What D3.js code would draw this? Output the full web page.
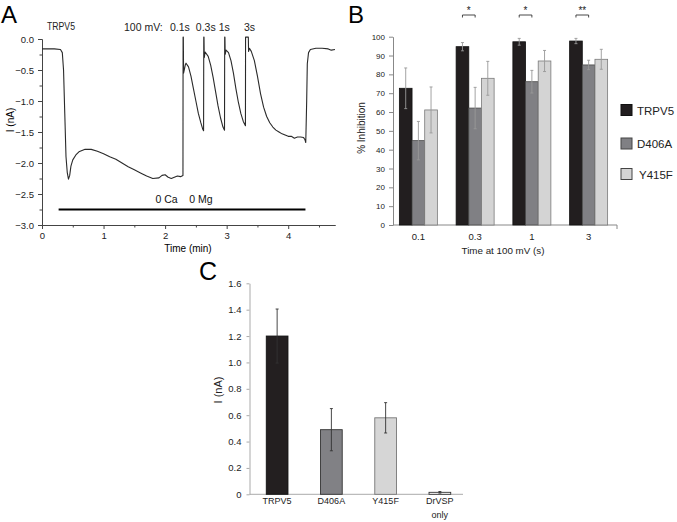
<!DOCTYPE html>
<html><head><meta charset="utf-8">
<script src="https://cdn.jsdelivr.net/npm/d3@7"></script>
<style>
body{margin:0;background:#fff;}
svg{display:block;font-family:"Liberation Sans",Arial,sans-serif;}
.axA path,.axA line{stroke:#444;}
.axB path,.axB line{stroke:#888;}
.axC path,.axC line{stroke:#aaa;}
.tick text{fill:#222;}
</style></head><body>
<svg id="fig" width="677" height="522"></svg>
<script>
// ---------- Panel A: current trace ----------
const traceTime = [0,0.1,0.2,0.3,0.33,0.35,0.37,0.39,0.41,0.43,0.45,0.47,0.5,0.55,0.6,0.7,0.8,0.9,1.0,1.1,1.2,1.3,1.4,1.5,1.6,1.7,1.8,1.9,1.95,2.0,2.05,2.1,2.15,2.2,2.25,2.29,
  2.292,2.296,2.30,2.33,2.34,2.38,2.42,2.46,2.5,2.54,2.58,2.61,2.625,
  2.628,2.632,2.636,2.65,2.7,2.74,2.78,2.82,2.86,2.9,2.94,2.965,
  2.968,2.972,2.976,2.99,3.03,3.07,3.11,3.15,3.19,3.23,3.27,3.305,
  3.307,3.352,3.356,3.37,3.4,3.45,3.5,3.55,3.6,3.65,3.7,3.75,3.8,3.85,3.9,3.95,4.0,4.05,4.1,4.15,4.2,4.25,4.27,4.285,
  4.3,4.31,4.33,4.36,4.45,4.55,4.65,4.7,4.76];
const traceCurrent = [-0.16,-0.16,-0.16,-0.17,-0.22,-0.5,-1.2,-1.9,-2.15,-2.26,-2.2,-2.05,-1.95,-1.87,-1.82,-1.78,-1.78,-1.81,-1.85,-1.9,-1.94,-2.0,-2.06,-2.11,-2.16,-2.21,-2.25,-2.24,-2.2,-2.19,-2.23,-2.25,-2.23,-2.21,-2.22,-2.2,
  0.03,0.03,-0.55,-0.41,-0.39,-0.45,-0.6,-0.8,-1.0,-1.2,-1.35,-1.45,-1.48,
  0.03,0.03,-0.3,-0.21,-0.28,-0.42,-0.62,-0.85,-1.08,-1.27,-1.42,-1.47,
  0.03,0.03,-0.25,-0.18,-0.22,-0.35,-0.55,-0.8,-1.02,-1.2,-1.33,-1.40,
  0.03,0.03,-0.2,-0.15,-0.2,-0.35,-0.6,-0.88,-1.1,-1.25,-1.35,-1.42,-1.47,-1.5,-1.53,-1.55,-1.57,-1.57,-1.6,-1.58,-1.58,-1.59,-1.62,-1.67,
  -1.0,-0.4,-0.22,-0.17,-0.15,-0.15,-0.16,-0.18,-0.17];
const pulseLabels = ["0.1s","0.3s","1s","3s"];
const pulseLabelX = [2.24,2.66,2.96,3.37];   // minutes, label centres
const solutionLabel = "0 Ca    0 Mg";
const solutionStart = 0.27, solutionEnd = 4.28, solutionLevel = -2.75;
const yTicksA = [0,-0.5,-1,-1.5,-2,-2.5,-3];
const xTicksA = [0,1,2,3,4];

// ---------- Panel B: % inhibition ----------
const groupsB = ["0.1","0.3","1","3"];
const seriesB = ["TRPV5","D406A","Y415F"];
const inhTRPV5 = [72.6,94.7,97.3,97.7];
const errTRPV5 = [10.8,2.2,1.8,1.4];
const inhD406A = [44.8,62.1,76.1,85.0];
const errD406A = [10.2,11,6,2.5];
const inhY415F = [61.1,77.9,87.1,88.0];
const errY415F = [12.2,9,5.6,5.3];
const sigB = ["","*","*","**"];
const yTicksB = [0,10,20,30,40,50,60,70,80,90,100];

// ---------- Panel C: current amplitude ----------
const catsC = ["TRPV5","D406A","Y415F","DrVSP only"];
const valsC = [1.2,0.49,0.58,0.015];
const errC = [0.205,0.16,0.115,0.006];
const yTicksC = [0,0.2,0.4,0.6,0.8,1.0,1.2,1.4,1.6];

const fillB = {TRPV5:"#221e1f", D406A:"#808084", Y415F:"#d4d4d4"};
const strokeB = {TRPV5:"#111", D406A:"#4a4a4a", Y415F:"#7a7a7a"};
const fillC = ["#231f20","#818185","#d6d6d6","#ffffff"];
const strokeC = ["#111","#333","#777","#333"];

const svg = d3.select("#fig");

// ===== Panel A =====
const xA = d3.scaleLinear().domain([0,4.76]).range([42,335]);
const yA = d3.scaleLinear().domain([-3,0]).range([225,39]);
const gA = svg.append("g");
gA.append("text").attr("x",1).attr("y",23).attr("font-size",24).text("A");
const axAy = gA.append("g").attr("class","axA").attr("transform","translate(42,0)")
  .call(d3.axisLeft(yA).tickValues(yTicksA).tickFormat(d3.format(".1f")).tickSize(4).tickSizeOuter(0));
axAy.selectAll("text").attr("font-size",9.5).attr("dx",-1);
gA.append("g").attr("class","axA").attr("transform","translate(42,0)")
  .call(d3.axisLeft(yA).tickValues(d3.range(-2.75,0,0.5)).tickFormat("").tickSize(2.5).tickSizeOuter(0));
const axAx = gA.append("g").attr("class","axA").attr("transform","translate(0,225)")
  .call(d3.axisBottom(xA).tickValues(xTicksA).tickFormat(d3.format("d")).tickSize(4).tickSizeOuter(0));
axAx.selectAll("text").attr("font-size",9.5);
gA.append("g").attr("class","axA").attr("transform","translate(0,225)")
  .call(d3.axisBottom(xA).tickValues([0.5,1.5,2.5,3.5,4.5]).tickFormat("").tickSize(2.5).tickSizeOuter(0));
gA.append("text").attr("transform","translate(14,120) rotate(-90)").attr("text-anchor","middle").attr("font-size",10).text("I (nA)");
gA.append("text").attr("x",188).attr("y",252).attr("text-anchor","middle").attr("font-size",10).text("Time (min)");
gA.append("text").attr("x",47).attr("y",30).attr("font-size",10.5).attr("textLength",28).attr("lengthAdjust","spacingAndGlyphs").attr("fill","#222").text("TRPV5");
gA.append("text").attr("x",124).attr("y",31).attr("font-size",10.5).attr("fill","#222").text("100 mV:");
gA.selectAll(".pl").data(pulseLabels).join("text").attr("class","pl")
  .attr("x",(d,i)=>xA(pulseLabelX[i])).attr("y",31).attr("text-anchor","middle").attr("font-size",10.5).attr("fill","#222").text(d=>d);
const lineA = d3.line().x((d,i)=>xA(traceTime[i])).y((d,i)=>yA(traceCurrent[i]));
gA.append("path").attr("d",lineA(traceTime)).attr("fill","none").attr("stroke","#2a2a2a").attr("stroke-width",1.1).attr("stroke-linejoin","round");
gA.append("line").attr("x1",xA(solutionStart)).attr("x2",xA(solutionEnd)).attr("y1",yA(solutionLevel)).attr("y2",yA(solutionLevel))
  .attr("stroke","#000").attr("stroke-width",2);
gA.append("text").attr("x",184).attr("y",203).attr("text-anchor","middle").attr("font-size",10.5).attr("fill","#111")
  .attr("xml:space","preserve").style("white-space","pre").text(solutionLabel);

// ===== Panel B =====
const xB = d3.scaleBand().domain(groupsB).range([390,617]);
const xBin = d3.scaleBand().domain(seriesB).range([0,38]);
const yB = d3.scaleLinear().domain([0,100]).range([225,36.7]);
const gB = svg.append("g");
gB.append("text").attr("x",348).attr("y",23).attr("font-size",24).text("B");
const axBy = gB.append("g").attr("class","axB").attr("transform","translate(393,0)")
  .call(d3.axisLeft(yB).tickValues(yTicksB).tickSize(4).tickSizeOuter(0));
axBy.selectAll("text").attr("font-size",8).attr("dx",-1);
gB.append("line").attr("x1",393).attr("x2",617).attr("y1",225).attr("y2",225).attr("stroke","#888");
gB.append("line").attr("x1",617).attr("x2",617).attr("y1",225).attr("y2",229).attr("stroke","#888");
gB.selectAll(".xtB").data(groupsB).join("text").attr("class","xtB")
  .attr("x",d=>xB(d)+xB.bandwidth()/2).attr("y",240).attr("text-anchor","middle").attr("font-size",9.5).attr("fill","#222").text(d=>d);
gB.append("text").attr("x",503).attr("y",254).attr("text-anchor","middle").attr("font-size",9.8).attr("fill","#222").text("Time at 100 mV (s)");
gB.append("text").attr("transform","translate(365,128) rotate(-90)").attr("text-anchor","middle").attr("font-size",10).attr("fill","#222").text("%  Inhibition");
const dataB = [];
const vals = {TRPV5:inhTRPV5, D406A:inhD406A, Y415F:inhY415F};
const errs = {TRPV5:errTRPV5, D406A:errD406A, Y415F:errY415F};
groupsB.forEach((g,gi)=>seriesB.forEach(s=>dataB.push({g,s,v:vals[s][gi],e:errs[s][gi]})));
const bx = d=>xB(d.g)+xB.bandwidth()/2-19+xBin(d.s);
gB.selectAll(".barB").data(dataB).join("rect").attr("class","barB")
  .attr("x",bx).attr("width",xBin.bandwidth()).attr("y",d=>yB(d.v)).attr("height",d=>225-yB(d.v))
  .attr("fill",d=>fillB[d.s]).attr("stroke",d=>strokeB[d.s]).attr("stroke-width",0.8);
const ebB = gB.selectAll(".ebB").data(dataB).join("g").attr("class","ebB").attr("stroke","#999").attr("stroke-width",0.9);
ebB.append("line").attr("x1",d=>bx(d)+xBin.bandwidth()/2).attr("x2",d=>bx(d)+xBin.bandwidth()/2).attr("y1",d=>yB(d.v+d.e)).attr("y2",d=>yB(d.v-d.e));
ebB.append("line").attr("x1",d=>bx(d)+xBin.bandwidth()/2-1.5).attr("x2",d=>bx(d)+xBin.bandwidth()/2+1.5).attr("y1",d=>yB(d.v+d.e)).attr("y2",d=>yB(d.v+d.e));
ebB.append("line").attr("x1",d=>bx(d)+xBin.bandwidth()/2-1.5).attr("x2",d=>bx(d)+xBin.bandwidth()/2+1.5).attr("y1",d=>yB(d.v-d.e)).attr("y2",d=>yB(d.v-d.e));
groupsB.forEach((g,gi)=>{
  if(!sigB[gi]) return;
  const c0 = xB(g)+xB.bandwidth()/2-19+xBin("TRPV5")+xBin.bandwidth()/2;
  const c1 = xB(g)+xB.bandwidth()/2-19+xBin("D406A")+xBin.bandwidth()/2;
  gB.append("path").attr("d",`M${c0},17.5V15H${c1}V17.5`).attr("fill","none").attr("stroke","#333").attr("stroke-width",0.9);
  gB.append("text").attr("x",(c0+c1)/2).attr("y",14).attr("text-anchor","middle").attr("font-size",10).attr("fill","#222").text(sigB[gi]);
});
const legY = [110,143.5,174];
const leg = gB.selectAll(".leg").data(seriesB).join("g").attr("class","leg").attr("transform",(d,i)=>`translate(621,${legY[i]})`);
leg.append("rect").attr("x",0).attr("y",-5.5).attr("width",11).attr("height",11).attr("fill",d=>fillB[d]).attr("stroke",d=>d==="TRPV5"?"#111":"#444").attr("stroke-width",1);
leg.append("text").attr("x",(d,i)=>i===2?18:16).attr("y",4.5).attr("font-size",11.5).attr("fill","#222").text(d=>d);

// ===== Panel C =====
const xC = d3.scaleBand().domain(catsC).range([250,467]).paddingInner(0.6).paddingOuter(0.3);
const yC = d3.scaleLinear().domain([0,1.6]).range([494.3,283.3]);
const gC = svg.append("g");
gC.append("text").attr("x",199).attr("y",280).attr("font-size",25).text("C");
const axCy = gC.append("g").attr("class","axC").attr("transform","translate(249.5,0)")
  .call(d3.axisLeft(yC).tickValues(yTicksC).tickFormat(d=>d===0?"0":d3.format(".1f")(d)).tickSize(3).tickSizeOuter(0));
axCy.selectAll("text").attr("font-size",9.5).attr("dx",-2);
gC.append("line").attr("x1",249.5).attr("x2",463).attr("y1",494.3).attr("y2",494.3).attr("stroke","#aaa");
gC.selectAll(".barC").data(catsC).join("rect").attr("class","barC")
  .attr("x",d=>xC(d)).attr("width",xC.bandwidth()).attr("y",(d,i)=>yC(valsC[i])).attr("height",(d,i)=>yC(0)-yC(valsC[i]))
  .attr("fill",(d,i)=>fillC[i]).attr("stroke",(d,i)=>strokeC[i]).attr("stroke-width",0.9);
const ebC = gC.selectAll(".ebC").data(catsC).join("g").attr("class","ebC").attr("stroke","#333").attr("stroke-width",0.9);
const cx = d=>xC(d)+xC.bandwidth()/2;
ebC.append("line").attr("x1",cx).attr("x2",cx).attr("y1",(d,i)=>yC(valsC[i]+errC[i])).attr("y2",(d,i)=>yC(valsC[i]-errC[i]));
ebC.append("line").attr("x1",d=>cx(d)-1.5).attr("x2",d=>cx(d)+1.5).attr("y1",(d,i)=>yC(valsC[i]+errC[i])).attr("y2",(d,i)=>yC(valsC[i]+errC[i]));
ebC.append("line").attr("x1",d=>cx(d)-1.5).attr("x2",d=>cx(d)+1.5).attr("y1",(d,i)=>yC(valsC[i]-errC[i])).attr("y2",(d,i)=>yC(valsC[i]-errC[i]));
const labC = gC.selectAll(".labC").data(catsC).join("text").attr("class","labC")
  .attr("x",cx).attr("y",504).attr("text-anchor","middle").attr("font-size",9).attr("fill","#222");
labC.each(function(d){
  const parts = d.split(" ");
  d3.select(this).selectAll("tspan").data(parts).join("tspan").attr("x",cx(d)).attr("dy",(p,j)=>j?13.5:0).text(p=>p);
});
gC.append("text").attr("transform","translate(222,390) rotate(-90)").attr("text-anchor","middle").attr("font-size",11).attr("fill","#222").text("I (nA)");
</script>
</body></html>
